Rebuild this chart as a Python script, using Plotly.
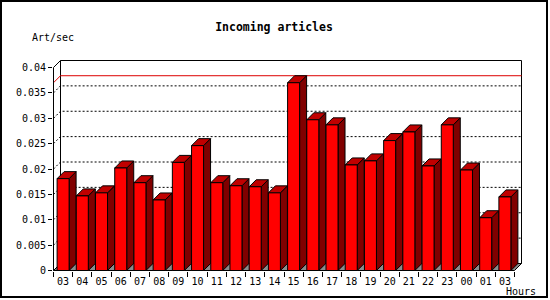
import plotly.graph_objects as go

# ---- data ----
hours = ["03", "04", "05", "06", "07", "08", "09", "10", "11", "12", "13", "14",
         "15", "16", "17", "18", "19", "20", "21", "22", "23", "00", "01", "03"]
rate = [0.0181, 0.0147, 0.0153, 0.0202, 0.0173, 0.0139, 0.0213, 0.0246,
        0.0173, 0.0167, 0.0165, 0.0153, 0.0370, 0.0297, 0.0287, 0.0208,
        0.0216, 0.0256, 0.0273, 0.0206, 0.0287, 0.0198, 0.0104, 0.0145]
y_ticks = [0, 0.005, 0.01, 0.015, 0.02, 0.025, 0.03, 0.035, 0.04]
y_tick_text = ["0", "0.005", "0.01", "0.015", "0.02", "0.025", "0.03", "0.035", "0.04"]

# ---- geometry (pixels -> data units) ----
W, H = 550, 300
L, R, T, B = 53, 28, 60, 29
n = len(hours)
slot_px = 461 / n
unit_px = 203 / 0.04
dx = 7 / slot_px
dy = 7 / unit_px
bw = 12 / slot_px
pw = W - L - R
ph = H - T - B
xlo = -0.5 - 0.5 / slot_px
xhi = xlo + pw / slot_px
ylo = -0.5 / unit_px
yhi = ylo + ph / unit_px
xl, xr = -0.5, n - 0.5
top = y_ticks[-1]


def px(x):
    return (x - L) / pw


def py(y):
    return (T + ph - y) / ph


fig = go.Figure()


def poly(xs, ys, fill, line="black", width=1, dash="solid"):
    fig.add_trace(go.Scatter(
        x=xs, y=ys, mode="lines", fill="toself" if fill else "none",
        fillcolor=fill, line=dict(color=line, width=width, dash=dash),
        hoverinfo="skip", showlegend=False, cliponaxis=False))


# back wall
poly([xl + dx, xr + dx, xr + dx, xl + dx, xl + dx],
     [dy, dy, top + dy, top + dy, dy], "white")

# grid lines
gx, gy = [], []
for v in y_ticks[1:-1]:
    gx += [xl, xl + dx, xr + dx, None]
    gy += [v, v + dy, v + dy, None]
poly(gx, gy, None, dash="2px,2px")

# max line
m = max(rate)
poly([xl, xl + dx, xr + dx], [m, m + dy, m + dy], None, line="#dd0000")

# floor
poly([xl, xr, xr + dx, xl + dx, xl], [0, 0, dy, dy, 0], "#8c8c8c")

# front-left axis edge
poly([xl, xl, xl + dx], [0, top, top + dy], None)

# bars
sx, sy, tx, ty, fx, fy = [], [], [], [], [], []
for i, v in enumerate(rate):
    x0, x1 = i - bw / 2, i + bw / 2
    sx += [x1, x1 + dx, x1 + dx, x1, x1, None]
    sy += [0, dy, v + dy, v, 0, None]
    tx += [x0, x0 + dx, x1 + dx, x1, x0, None]
    ty += [v, v + dy, v + dy, v, v, None]
    fx += [x0, x1, x1, x0, x0, None]
    fy += [0, 0, v, v, 0, None]
poly(sx, sy, "#800000")
poly(tx, ty, "#c00000")
poly(fx, fy, "#ff0000")

font = dict(family="DejaVu Sans Mono", size=10, color="black")

fig.update_layout(
    width=W, height=H,
    margin=dict(l=L, r=R, t=T, b=B, pad=0),
    paper_bgcolor="white", plot_bgcolor="white",
    font=font,
    title=dict(text="<b>Incoming articles</b>", x=274 / W, y=1 - 27 / H,
               xanchor="center", yanchor="middle", xref="container", yref="container",
               font=dict(family="DejaVu Sans Mono", size=11.5, color="black")),
    xaxis=dict(range=[xlo, xhi], showgrid=False, zeroline=False, showline=False,
               tickmode="array", tickvals=list(range(n)), ticktext=hours,
               ticks="", tickfont=font, ticklabelstandoff=3,
               minor=dict(tickmode="array", tickvals=[k - 0.5 for k in range(n + 1)],
                          ticks="outside", ticklen=5, tickwidth=1, tickcolor="black",
                          showgrid=False)),
    yaxis=dict(range=[ylo, yhi], showgrid=False, zeroline=False, showline=False,
               tickmode="array", tickvals=y_ticks, ticktext=y_tick_text,
               ticks="outside", ticklen=4, tickwidth=1, tickcolor="black",
               tickfont=font),
    annotations=[
        dict(text="Art/sec", x=px(30), y=py(37), xref="paper", yref="paper",
             xanchor="left", yanchor="middle", showarrow=False, font=font),
        dict(text="Hours", x=px(504), y=py(291), xref="paper", yref="paper",
             xanchor="left", yanchor="middle", showarrow=False, font=font),
    ],
    shapes=[dict(type="rect", xref="paper", yref="paper",
                 x0=px(1), x1=px(547), y0=py(297), y1=py(1),
                 line=dict(color="black", width=2))],
)

fig.write_html("out.html")
